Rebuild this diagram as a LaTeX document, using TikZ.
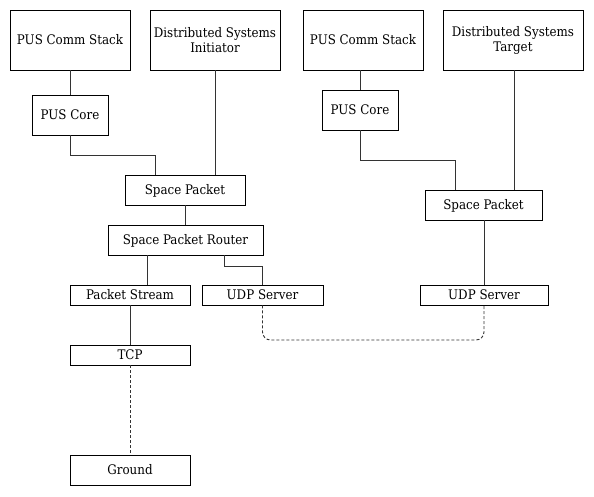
\documentclass[tikz,border=0pt]{standalone}
\usepackage{fontspec}
\setmainfont{DejaVu Serif Condensed}
\begin{document}
\begin{tikzpicture}[x=1pt,y=-1pt,
  box/.style={draw=black, line width=0.9pt, inner sep=0pt, align=center, font=\fontsize{13.2}{15}\selectfont},
  one/.style={text height=9.8pt, text depth=0.6pt},
  conn/.style={draw=black!80, line width=0.9pt},
  dconn/.style={draw=black!80, line width=0.9pt, dash pattern=on 3pt off 2pt}]
\useasboundingbox (0,0) rectangle (594,496);
\node[box, one, minimum width=120pt, minimum height=60pt] (pcsl) at (70,40) {PUS Comm Stack};
\node[box, minimum width=130pt, minimum height=60pt] (dsi) at (215,40) {Distributed Systems\\Initiator};
\node[box, one, minimum width=120pt, minimum height=60pt] (pcsr) at (363,40) {PUS Comm Stack};
\node[box, minimum width=140pt, minimum height=60pt] (dst) at (513,40) {Distributed Systems\\Target};
\node[box, one, minimum width=76pt, minimum height=40pt] (pcl) at (70,115) {PUS Core};
\node[box, one, minimum width=76pt, minimum height=40pt] (pcr) at (360,110) {PUS Core};
\node[box, one, minimum width=120pt, minimum height=30pt] (spl) at (185,190) {Space Packet};
\node[box, one, minimum width=117pt, minimum height=30pt] (spr) at (483.5,205) {Space Packet};
\node[box, one, minimum width=155pt, minimum height=30pt] (spr0) at (185.5,240) {Space Packet Router};
\node[box, one, minimum width=120pt, minimum height=20pt] (ps) at (130,295) {Packet Stream};
\node[box, one, minimum width=121pt, minimum height=20pt] (udpl) at (262.5,295) {UDP Server};
\node[box, one, minimum width=128pt, minimum height=20pt] (udpr) at (484,295) {UDP Server};
\node[box, one, minimum width=120pt, minimum height=20pt] (tcp) at (130,355) {TCP};
\node[box, one, minimum width=120pt, minimum height=30pt] (gnd) at (130,470) {Ground};
% connectors
\draw[conn] (pcsl.south) -- (pcl.north);
\draw[conn] (pcl.south) -- (70,155) -| (spl.north -| 155,0);
\draw[conn] (dsi.south) -- (spl.north -| dsi.south);
\draw[conn] (spl.south) -- (spr0.north -| spl.south);
\draw[conn] (spr0.south -| 147,0) -- (ps.north -| 147,0);
\draw[conn] (spr0.south -| 224,0) -- (224,266) -| (udpl.north);
\draw[conn] (ps.south) -- (tcp.north);
\draw[dconn] (tcp.south) -- (gnd.north);
\draw[dconn, rounded corners=8pt] (udpl.south) -- (262.5,340) -- (484,340) -- (udpr.south);
\draw[conn] (pcsr.south -| pcr.north) -- (pcr.north);
\draw[conn] (pcr.south) -- (360,160) -| (spr.north -| 455,0);
\draw[conn] (dst.south -| 514,0) -- (spr.north -| 514,0);
\draw[conn] (spr.south -| udpr.north) -- (udpr.north);
\end{tikzpicture}
\end{document}
